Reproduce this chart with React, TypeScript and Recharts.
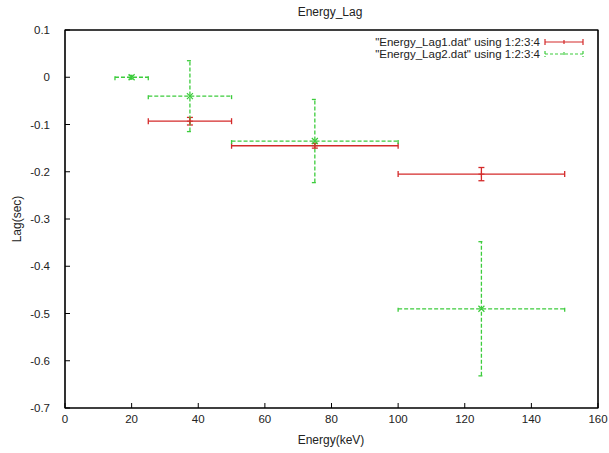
import { ScatterChart, Scatter, XAxis, YAxis, ErrorBar, ReferenceArea } from "recharts";

// Energy_Lag1.dat
const energy1 = [37.5, 75, 125];
const energyErr1 = [12.5, 25, 25];
const lag1 = [-0.093, -0.145, -0.205];
const lagErr1 = [0.008, 0.005, 0.014];

// Energy_Lag2.dat
const energy2 = [20, 37.5, 75, 125];
const energyErr2 = [5, 12.5, 25, 25];
const lag2 = [0, -0.04, -0.135, -0.49];
const lagErr2 = [0.004, 0.075, 0.088, 0.142];

const xTicks = [0, 20, 40, 60, 80, 100, 120, 140, 160];
const yTicks = [0.1, 0, -0.1, -0.2, -0.3, -0.4, -0.5, -0.6, -0.7];

const RED = "#d42a2a";
const GREEN = "#3ccc3c";
const FONT = "'Liberation Sans', Arial, sans-serif";

const set1 = energy1.map((e, i) => ({ x: e, y: lag1[i], xErr: energyErr1[i], yErr: lagErr1[i] }));
const set2 = energy2.map((e, i) => ({ x: e, y: lag2[i], xErr: energyErr2[i], yErr: lagErr2[i] }));

const Plus = (p: any) => (
  <path d={`M${p.cx - 3},${p.cy}H${p.cx + 3}M${p.cx},${p.cy - 3}V${p.cy + 3}`} stroke={RED} strokeWidth={1} />
);
const Cross = (p: any) => (
  <path
    d={`M${p.cx - 3},${p.cy - 3}L${p.cx + 3},${p.cy + 3}M${p.cx - 3},${p.cy + 3}L${p.cx + 3},${p.cy - 3}`}
    stroke={GREEN}
    strokeWidth={1.2}
  />
);

const tickStyle = { fontSize: 11.5, fontFamily: FONT, fill: "#222" };

function LegendRow({ label, color, dashed }: { label: string; color: string; dashed?: boolean }) {
  return (
    <div style={{ display: "flex", alignItems: "center", justifyContent: "flex-end", height: 12 }}>
      <span>{label}</span>
      <svg width={42} height={10} style={{ marginLeft: 3 }}>
        <path
          d="M2,5H40M2,2V8M40,2V8M21,3V7"
          stroke={color}
          strokeWidth={1.2}
          strokeDasharray={dashed ? "3 2" : undefined}
          fill="none"
        />
      </svg>
    </div>
  );
}

const textStyle = { position: "absolute" as const, fontSize: 12, color: "#222", whiteSpace: "nowrap" as const };

export default function App() {
  return (
    <div style={{ position: "absolute", left: 0, top: 0, width: 609, height: 453, background: "#fff", fontFamily: FONT }}>
      <ScatterChart width={609} height={453} margin={{ top: 29, right: 10, bottom: 15, left: 25 }}>
        <ReferenceArea
          xAxisId="b"
          yAxisId="l"
          x1={0}
          x2={160}
          y1={-0.7}
          y2={0.1}
          fill="none"
          stroke="#000"
          strokeWidth={1.2}
          ifOverflow="visible"
        />
        <XAxis
          xAxisId="b"
          type="number"
          dataKey="x"
          domain={[0, 160]}
          ticks={xTicks}
          height={30}
          stroke="#000"
          tickSize={-5}
          tickMargin={12}
          tick={tickStyle}
          allowDataOverflow
        />
        <XAxis
          xAxisId="t"
          orientation="top"
          type="number"
          dataKey="x"
          domain={[0, 160]}
          ticks={xTicks}
          height={1}
          stroke="#000"
          tickSize={-5}
          tickFormatter={() => ""}
        />
        <YAxis
          yAxisId="l"
          type="number"
          dataKey="y"
          domain={[-0.7, 0.1]}
          ticks={yTicks}
          width={40}
          stroke="#000"
          tickSize={-5}
          tickMargin={20}
          tick={tickStyle}
          allowDataOverflow
        />
        <YAxis
          yAxisId="r"
          orientation="right"
          type="number"
          dataKey="y"
          domain={[-0.7, 0.1]}
          ticks={yTicks}
          width={1}
          stroke="#000"
          tickSize={-5}
          tickFormatter={() => ""}
        />
        <Scatter data={set1} xAxisId="b" yAxisId="l" shape={Plus} isAnimationActive={false}>
          <ErrorBar dataKey="xErr" direction="x" width={3} stroke={RED} strokeWidth={1.3} isAnimationActive={false} />
          <ErrorBar dataKey="yErr" direction="y" width={3} stroke={RED} strokeWidth={1.3} isAnimationActive={false} />
        </Scatter>
        <Scatter data={set2} xAxisId="b" yAxisId="l" shape={Cross} isAnimationActive={false}>
          <ErrorBar
            dataKey="xErr"
            direction="x"
            width={3}
            stroke={GREEN}
            strokeWidth={1.3}
            strokeDasharray="4 2"
            isAnimationActive={false}
          />
          <ErrorBar
            dataKey="yErr"
            direction="y"
            width={3}
            stroke={GREEN}
            strokeWidth={1.3}
            strokeDasharray="4 2"
            isAnimationActive={false}
          />
        </Scatter>
      </ScatterChart>

      <div style={{ ...textStyle, left: 330, top: 12, transform: "translate(-50%, -50%)" }}>Energy_Lag</div>
      <div style={{ ...textStyle, left: 331, top: 440, transform: "translate(-50%, -50%)" }}>Energy(keV)</div>
      <div style={{ ...textStyle, left: 17, top: 219, transform: "translate(-50%, -50%) rotate(-90deg)" }}>Lag(sec)</div>
      <div style={{ position: "absolute", right: 24, top: 36, fontSize: 11.5, color: "#222", lineHeight: "12px", whiteSpace: "nowrap" }}>
        <LegendRow label={'"Energy_Lag1.dat" using 1:2:3:4'} color={RED} />
        <LegendRow label={'"Energy_Lag2.dat" using 1:2:3:4'} color={GREEN} dashed />
      </div>
    </div>
  );
}
